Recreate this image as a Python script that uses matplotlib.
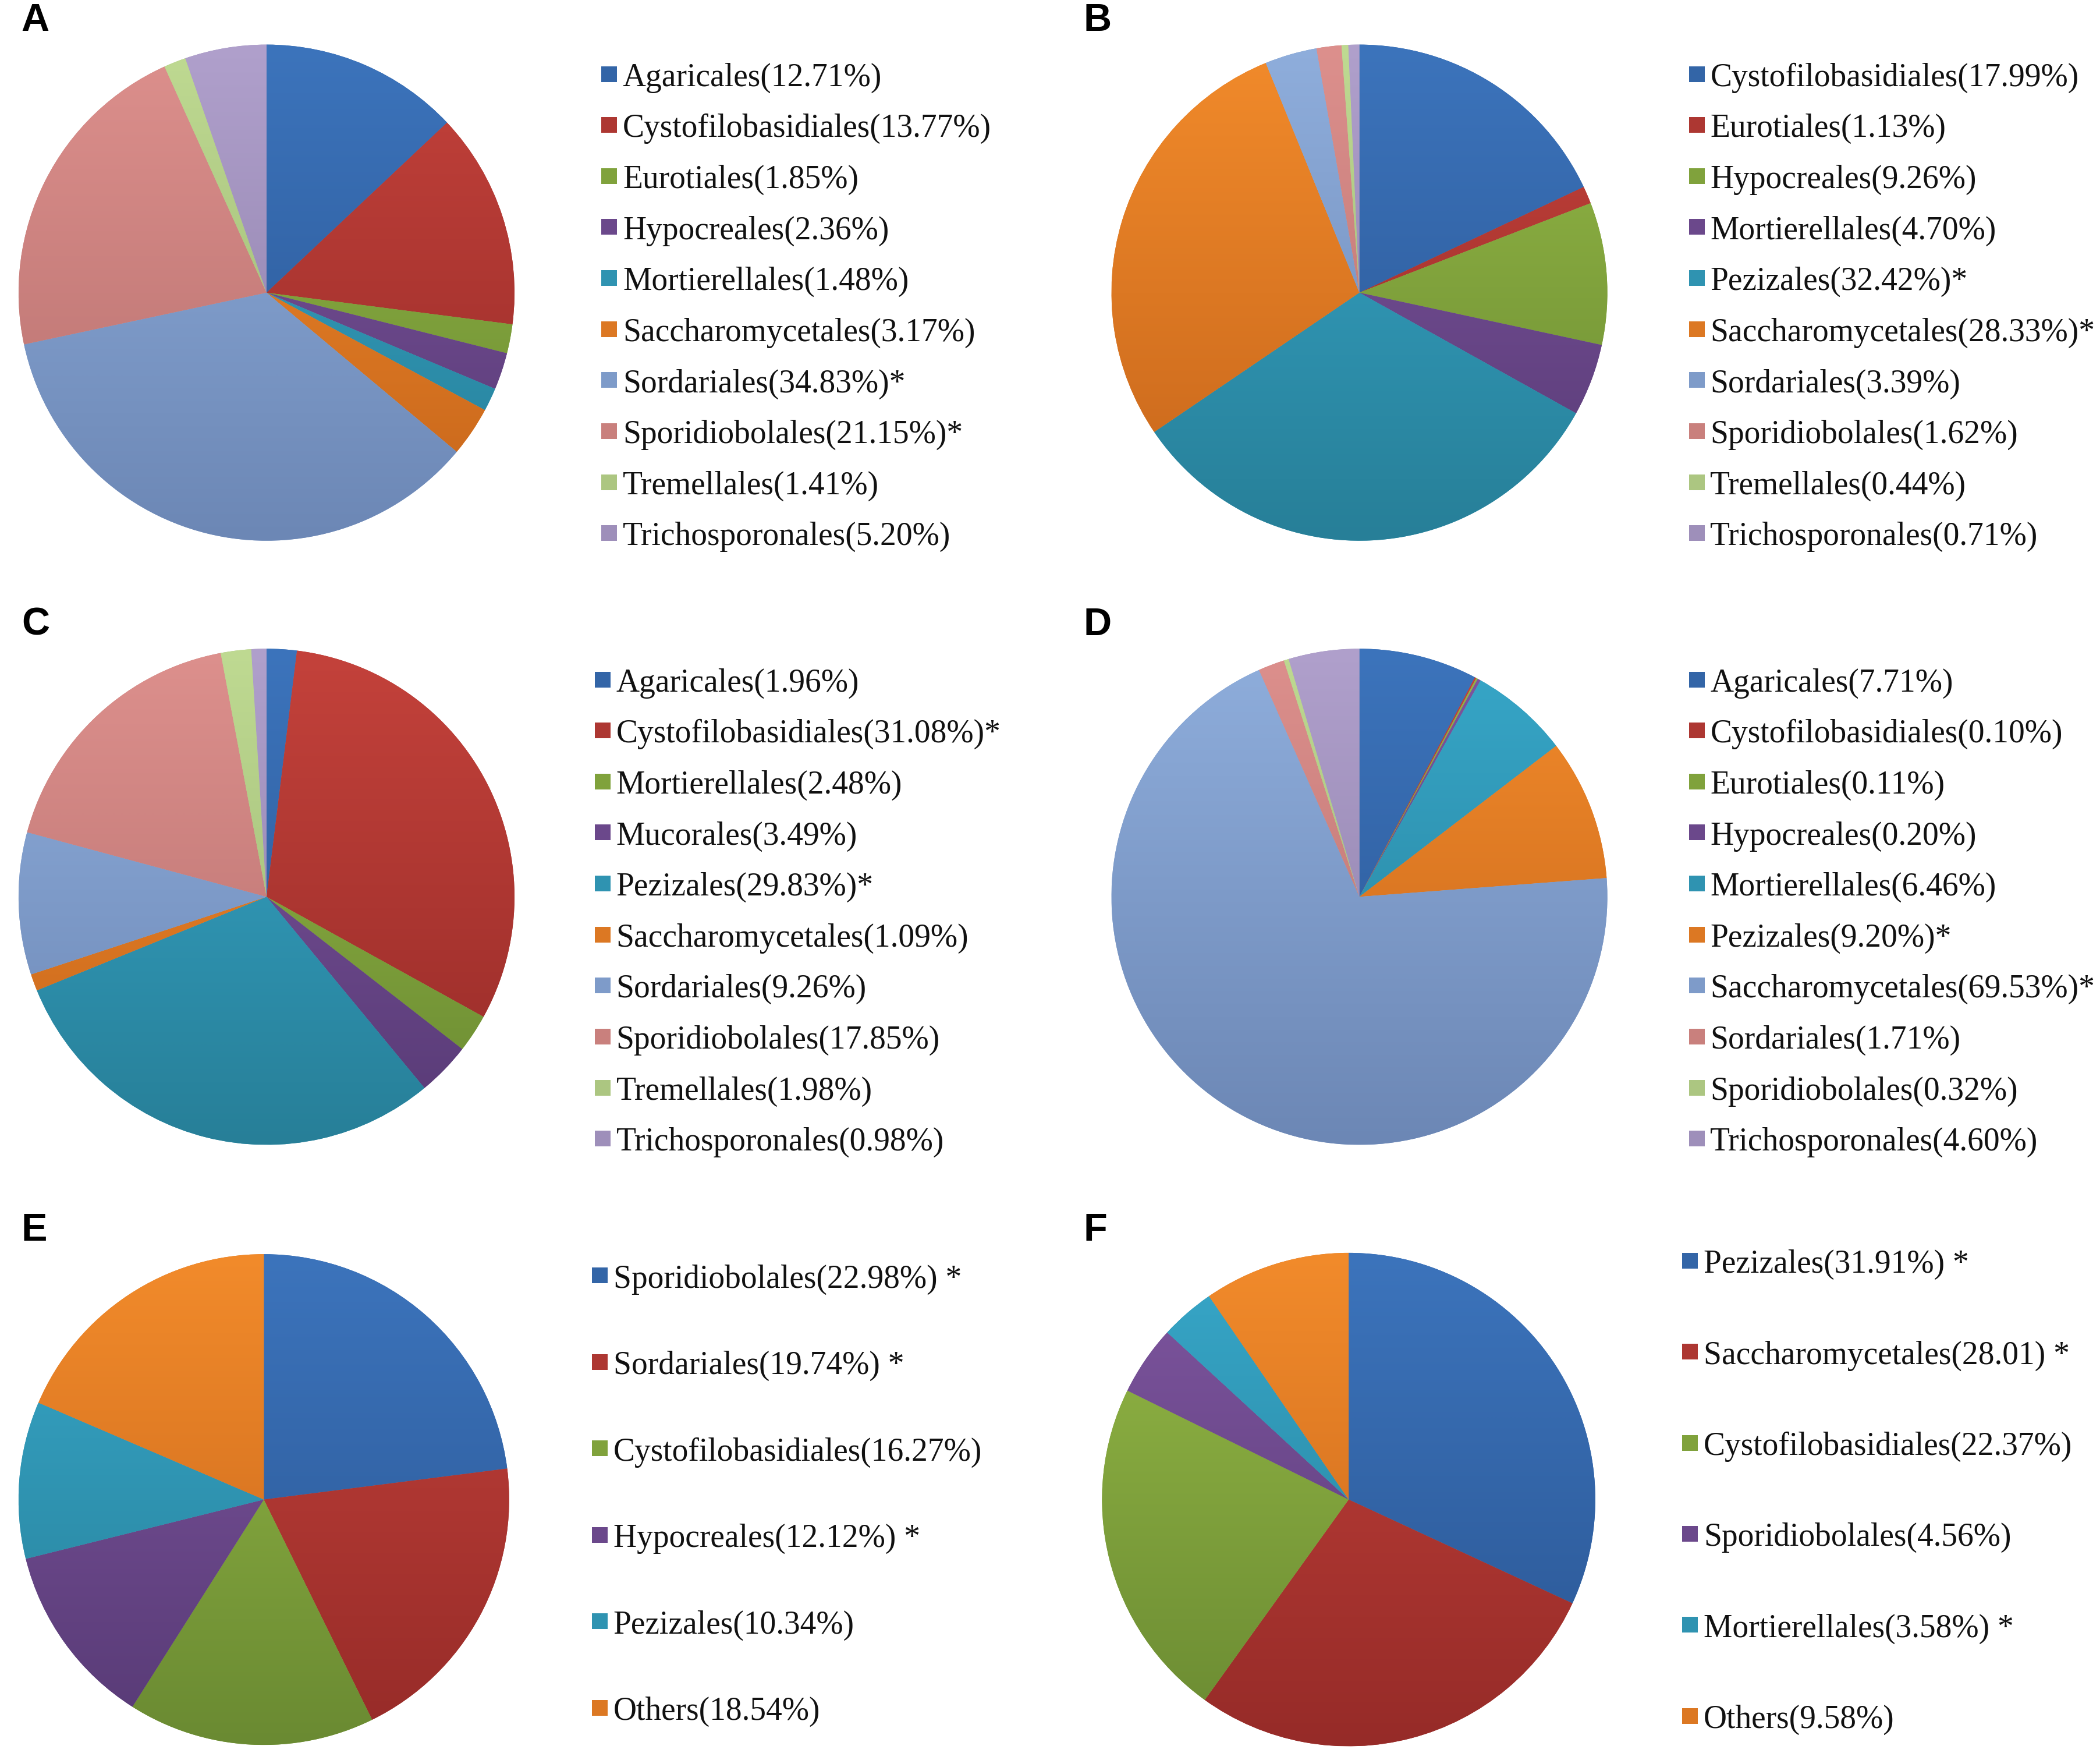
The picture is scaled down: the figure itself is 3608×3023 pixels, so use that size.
import numpy as np
import matplotlib
matplotlib.use("Agg")
import matplotlib.pyplot as plt
from matplotlib.colors import LinearSegmentedColormap, to_rgb
from matplotlib.patches import Rectangle

# ---------------- data ----------------
A_values = [12.71, 13.77, 1.85, 2.36, 1.48, 3.17, 34.83, 21.15, 1.41, 5.20]
A_labels = ["Agaricales(12.71%)", "Cystofilobasidiales(13.77%)", "Eurotiales(1.85%)",
            "Hypocreales(2.36%)", "Mortierellales(1.48%)", "Saccharomycetales(3.17%)",
            "Sordariales(34.83%)*", "Sporidiobolales(21.15%)*", "Tremellales(1.41%)",
            "Trichosporonales(5.20%)"]

B_values = [17.99, 1.13, 9.26, 4.70, 32.42, 28.33, 3.39, 1.62, 0.44, 0.71]
B_labels = ["Cystofilobasidiales(17.99%)", "Eurotiales(1.13%)", "Hypocreales(9.26%)",
            "Mortierellales(4.70%)", "Pezizales(32.42%)*", "Saccharomycetales(28.33%)*",
            "Sordariales(3.39%)", "Sporidiobolales(1.62%)", "Tremellales(0.44%)",
            "Trichosporonales(0.71%)"]

C_values = [1.96, 31.08, 2.48, 3.49, 29.83, 1.09, 9.26, 17.85, 1.98, 0.98]
C_labels = ["Agaricales(1.96%)", "Cystofilobasidiales(31.08%)*", "Mortierellales(2.48%)",
            "Mucorales(3.49%)", "Pezizales(29.83%)*", "Saccharomycetales(1.09%)",
            "Sordariales(9.26%)", "Sporidiobolales(17.85%)", "Tremellales(1.98%)",
            "Trichosporonales(0.98%)"]

D_values = [7.71, 0.10, 0.11, 0.20, 6.46, 9.20, 69.53, 1.71, 0.32, 4.60]
D_labels = ["Agaricales(7.71%)", "Cystofilobasidiales(0.10%)", "Eurotiales(0.11%)",
            "Hypocreales(0.20%)", "Mortierellales(6.46%)", "Pezizales(9.20%)*",
            "Saccharomycetales(69.53%)*", "Sordariales(1.71%)", "Sporidiobolales(0.32%)",
            "Trichosporonales(4.60%)"]

E_values = [22.98, 19.74, 16.27, 12.12, 10.34, 18.54]
E_labels = ["Sporidiobolales(22.98%) *", "Sordariales(19.74%) *", "Cystofilobasidiales(16.27%)",
            "Hypocreales(12.12%) *", "Pezizales(10.34%)", "Others(18.54%)"]

F_values = [31.91, 28.01, 22.37, 4.56, 3.58, 9.58]
F_labels = ["Pezizales(31.91%) *", "Saccharomycetales(28.01) *", "Cystofilobasidiales(22.37%)",
            "Sporidiobolales(4.56%)", "Mortierellales(3.58%) *", "Others(9.58%)"]

# ---------------- style ----------------
TOPS = ["#3C74BC", "#C4423B", "#95B946", "#7F56A0", "#37A7C9", "#F28B2B",
        "#8FAEDC", "#DD908D", "#BFDA92", "#B0A0CC"]
BOTS = ["#2A5592", "#962B28", "#6A8A32", "#573A75", "#277F98", "#C6651B",
        "#6C87B5", "#B56F6D", "#98B370", "#8B7DA7"]


def mid(c1, c2):
    a, b = np.array(to_rgb(c1)), np.array(to_rgb(c2))
    return tuple((a + b) / 2)


W, H = 1568.0, 1311.0
FW, FH = 3608, 3023
fig = plt.figure(figsize=(FW / 100, FH / 100), dpi=100)


def fx(x):
    return x / W


def fy(y):
    return 1 - y / H


panels = [
    ("A", A_values, A_labels, (199, 218, 187), (449, 465), 64, 38.0, (16, 23)),
    ("B", B_values, B_labels, (1015, 218, 187), (1261, 1277), 64, 38.0, (809, 23)),
    ("C", C_values, C_labels, (199, 668, 187), (444, 460), 515, 38.0, (16, 473)),
    ("D", D_values, D_labels, (1015, 668, 187), (1261, 1277), 515, 38.0, (809, 473)),
    ("E", E_values, E_labels, (197, 1117, 185), (442, 458), 959, 64.4, (16, 924)),
    ("F", F_values, F_labels, (1007, 1117, 186), (1256, 1272), 948, 67.8, (809, 924)),
]

grad = np.linspace(0, 1, 512).reshape(-1, 1)

for letter, vals, labels, (cx, cy, r), (mx, tx), base0, step, (lx, ly) in panels:
    ax = fig.add_axes([fx(cx - r), fy(cy + r), 2 * r / W, 2 * r / H])
    wedges, _ = ax.pie(vals, startangle=90, counterclock=False, radius=1.0,
                       colors=[mid(TOPS[i], BOTS[i]) for i in range(len(vals))],
                       wedgeprops=dict(linewidth=0))
    for i, w in enumerate(wedges):
        cm = LinearSegmentedColormap.from_list("g%d" % i, [BOTS[i], TOPS[i]])
        im = ax.imshow(grad, cmap=cm, extent=[-1, 1, -1, 1], origin="lower",
                       aspect="auto", interpolation="bilinear", zorder=2)
        im.set_clip_path(w)
    ax.set_xlim(-1.01, 1.01)
    ax.set_ylim(-1.01, 1.01)
    ax.set_aspect("equal")
    ax.axis("off")

    # legend
    for i, lab in enumerate(labels):
        yb = base0 + i * step
        fig.text(fx(tx), fy(yb), lab, fontsize=40, family="Liberation Serif",
                 ha="left", va="baseline", color="#111111")
        c = mid(TOPS[i], BOTS[i])
        fig.patches.append(Rectangle((fx(mx), fy(yb) + 7 / FH), 27 / FW, 27 / FH,
                                     transform=fig.transFigure, facecolor=c,
                                     edgecolor="none"))
    fig.text(fx(lx), fy(ly), letter, fontsize=48, fontweight="bold",
             family="Liberation Sans", ha="left", va="baseline", color="black")

fig.savefig("out.png", dpi=100)
